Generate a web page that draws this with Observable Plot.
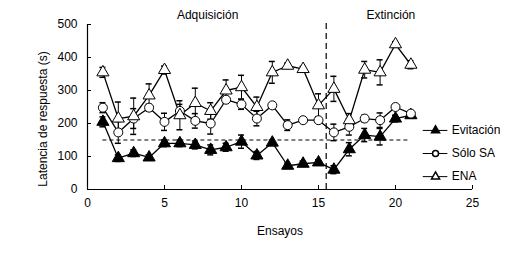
<!DOCTYPE html>
<html><head><meta charset="utf-8">
<script src="https://cdn.jsdelivr.net/npm/d3@7"></script>
<script src="https://cdn.jsdelivr.net/npm/@observablehq/plot@0.6"></script>
<style>body{margin:0;background:#fff}</style>
</head><body><div id="chart"></div>
<script>
const ensayos = [1,2,3,4,5,6,7,8,9,10,11,12,13,14,15,16,17,18,19,20,21];
const evitacion    = [205, 95,110, 97,140,140,135,120,128,145,103,142, 72, 78, 82, 60,122,165,160,215,225];
const evitacionErr = [ 15, 10, 10,  8, 10, 10, 12, 15, 12, 20, 12,  8,  8,  8,  8, 12, 20, 20, 25, 10,  8];
const soloSA       = [248,173,215,248,205,238,208,200,272,258,215,255,195,210,210,173,190,215,210,250,230];
const soloSAErr    = [ 15, 33, 30, 10, 26, 20, 22, 32, 10, 15, 22,  5, 16,  5,  8, 25, 25, 10, 22,  8,  8];
const ena          = [355,215,222,285,362,225,262,238,300,310,250,355,375,365,255,305,210,363,355,440,378];
const enaErr       = [ 15, 50, 55, 35, 12, 44, 45, 25, 32, 36, 30, 33,  8,  8, 35, 38, 20, 25, 38,  8, 12];
const seriesNames = ["Evitación", "Sólo SA", "ENA"];
const xTicks = [0, 5, 10, 15, 20, 25];
const yTicks = [0, 100, 200, 300, 400, 500];
const phaseLabels = ["Adquisición", "Extinción"];
const phaseCenters = [7.8, 19.7];
const yLabel = "Latencia de respuesta (s)";
const xLabel = "Ensayos";
const criterion = 150;
const criterionRange = [1, 21];
const phaseBoundary = 15.5;

const values = [evitacion, soloSA, ena];
const errors = [evitacionErr, soloSAErr, enaErr];
const rows = seriesNames.flatMap((s, i) => ensayos.map((x, j) => ({series: s, x, v: values[i][j], e: errors[i][j]})));
const bySeries = s => rows.filter(d => d.series === s);

// legend layout (data coordinates within the frame)
const legend = seriesNames.map((s, i) => ({series: s, y: [179, 109, 39][i]}));
const legX1 = 21.8, legX2 = 23.4, legSym = 22.6, legText = 23.65;

const symbolOf = {"Evitación": "triangle", "Sólo SA": "circle", "ENA": "triangle"};
const fillOf = {"Evitación": "black", "Sólo SA": "white", "ENA": "white"};

const marks = [
  Plot.ruleY([criterion], {x1: criterionRange[0], x2: criterionRange[1], stroke: "black", strokeDasharray: "4,3", strokeWidth: 1}),
  Plot.ruleX([phaseBoundary], {y1: 0, y2: 508, stroke: "black", strokeDasharray: "6,4", strokeWidth: 1.2}),
  Plot.ruleY([0], {stroke: "black", strokeWidth: 1.2}),
  Plot.ruleX([0], {stroke: "black", strokeWidth: 1.2}),
  Plot.ruleX(xTicks, {x: d => d, y1: 0, y2: 0, insetTop: -4, stroke: "black"}),
  Plot.ruleY(yTicks, {y: d => d, x1: 0, x2: 0, insetRight: -4, stroke: "black"}),
  Plot.axisX(xTicks, {tickSize: 0, tickPadding: 9, fontSize: 12, label: xLabel, labelAnchor: "center", labelArrow: "none", labelOffset: 45}),
  Plot.axisY(yTicks, {tickSize: 0, tickPadding: 10, fontSize: 12, label: null}),
  Plot.text([yLabel], {frameAnchor: "left", textAnchor: "middle", text: d => d, rotate: -90, dx: -44, dy: 12, fontSize: 12}),
  Plot.ruleX(rows, {x: "x", y1: d => d.v - d.e, y2: d => d.v + d.e, stroke: "black", strokeWidth: 1}),
  Plot.ruleY(rows, {y: d => d.v + d.e, x1: "x", x2: "x", insetLeft: -3, insetRight: -3, stroke: "black", strokeWidth: 1.5}),
  Plot.ruleY(rows, {y: d => d.v - d.e, x1: "x", x2: "x", insetLeft: -3, insetRight: -3, stroke: "black", strokeWidth: 1.5}),
  ...seriesNames.map(s => Plot.line(bySeries(s), {x: "x", y: "v", stroke: "black", strokeWidth: 1.3})),
  ...seriesNames.map(s => Plot.dot(bySeries(s), {x: "x", y: "v", symbol: () => symbolOf[s], r: 4.5, fill: fillOf[s], stroke: "black", strokeWidth: 1})),
  Plot.text(phaseLabels, {x: (d, i) => phaseCenters[i], y: 527, text: d => d, fontSize: 12}),
  ...legend.map(l => Plot.ruleY([l.y], {x1: legX1, x2: legX2, stroke: "black", strokeWidth: 1})),
  ...legend.map(l => Plot.dot([l], {x: legSym, y: "y", symbol: () => symbolOf[l.series], r: 3, fill: fillOf[l.series], stroke: "black"})),
  Plot.text(legend, {x: legText, y: "y", text: "series", textAnchor: "start", fontSize: 12})
];

const chart = Plot.plot({
  width: 511, height: 274,
  marginLeft: 87, marginRight: 39, marginTop: 24, marginBottom: 85,
  x: {domain: [0, 25], axis: null},
  y: {domain: [0, 500], axis: null},
  symbol: {type: "identity"},
  style: {fontFamily: "'Liberation Sans', Arial, sans-serif", fontSize: "12px", color: "black", background: "white"},
  marks
});
document.getElementById("chart").appendChild(chart);
</script>
</body></html>
